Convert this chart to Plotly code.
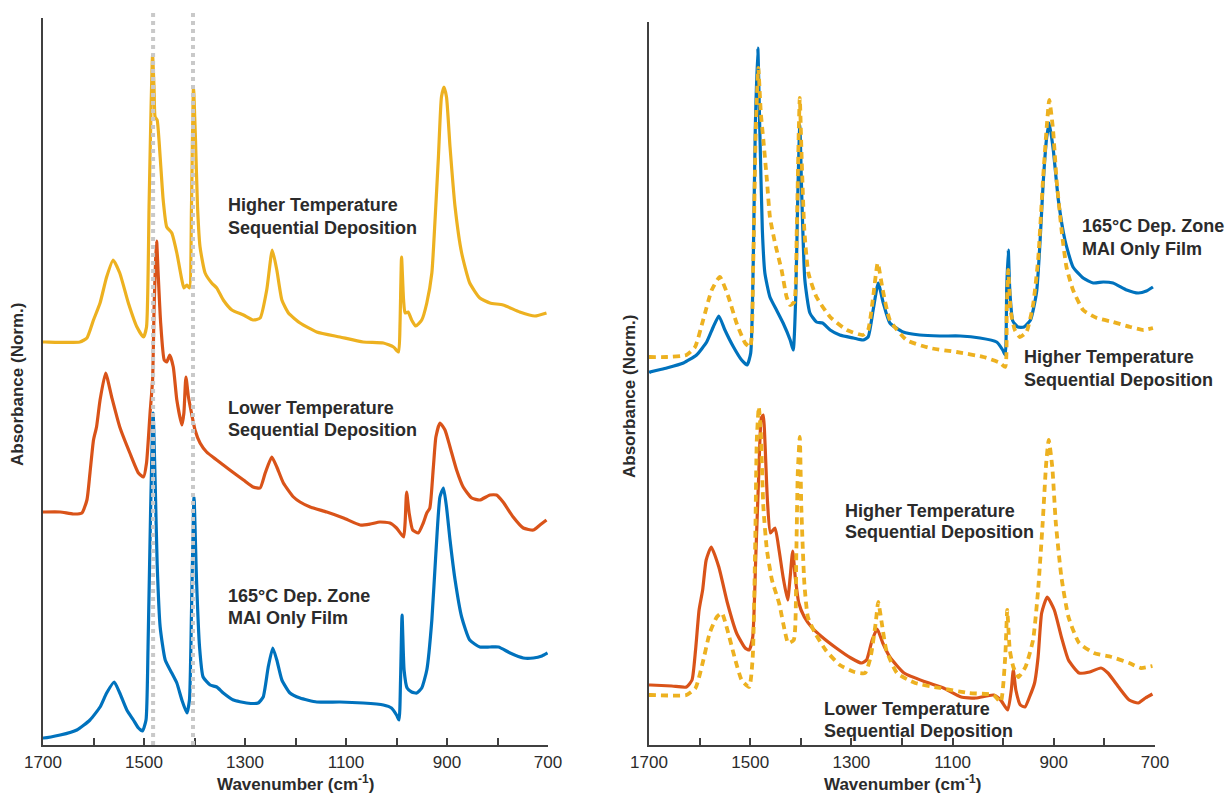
import plotly.graph_objects as go

# ---------------- data (wavenumber in cm-1, normalized absorbance with stacking offset) -------------
# Left panel
left_higher_wn = [1700, 1696, 1627, 1613, 1600, 1587, 1574, 1561, 1548, 1531, 1514, 1501, 1495, 1490, 1486, 1483,
                  1480, 1478, 1474, 1468, 1462, 1455, 1445, 1435, 1425, 1421, 1415, 1410, 1406, 1402, 1398, 1394,
                  1389, 1379, 1366, 1356, 1343, 1326, 1303, 1284, 1270, 1257, 1246, 1237, 1227, 1214, 1191, 1158,
                  1112, 1066, 1026, 1006, 996, 993, 990, 986, 983, 977, 970, 962, 950, 940, 930, 924, 917, 911,
                  906, 901, 894, 884, 871, 855, 835, 815, 789, 756, 726, 703]
left_higher_abs = [4.03, 4.03, 4.03, 4.07, 4.25, 4.42, 4.68, 4.85, 4.72, 4.42, 4.18, 4.08, 4.18, 5.38, 6.38, 6.90,
                   6.55, 6.28, 6.25, 5.88, 5.45, 5.18, 5.12, 4.92, 4.65, 4.57, 4.60, 4.57, 5.38, 6.58, 6.05, 5.38,
                   4.98, 4.72, 4.62, 4.57, 4.45, 4.35, 4.30, 4.25, 4.27, 4.55, 4.95, 4.75, 4.45, 4.32, 4.22, 4.13,
                   4.08, 4.03, 4.02, 3.98, 3.93, 4.22, 4.88, 4.45, 4.32, 4.33, 4.25, 4.19, 4.25, 4.42, 4.72, 5.22,
                   5.88, 6.48, 6.58, 6.48, 5.98, 5.38, 4.92, 4.62, 4.47, 4.42, 4.40, 4.33, 4.29, 4.32]

left_lower_wn = [1700, 1699, 1666, 1640, 1623, 1613, 1607, 1600, 1594, 1587, 1576, 1564, 1548, 1528, 1511, 1501,
                 1495, 1488, 1483, 1480, 1477, 1475, 1472, 1467, 1460, 1455, 1449, 1442, 1435, 1425, 1421, 1417,
                 1412, 1406, 1399, 1389, 1376, 1356, 1330, 1303, 1284, 1270, 1260, 1247, 1237, 1224, 1204, 1191,
                 1171, 1138, 1105, 1072, 1052, 1033, 1013, 1000, 986, 983, 980, 975, 968, 957, 947, 940, 934,
                 927, 922, 914, 904, 894, 881, 868, 851, 835, 815, 802, 789, 769, 749, 729, 716, 703]
left_lower_abs = [2.33, 2.33, 2.33, 2.31, 2.32, 2.45, 2.72, 3.05, 3.18, 3.45, 3.72, 3.48, 3.18, 2.92, 2.72, 2.68,
                  2.82, 3.32, 3.65, 4.38, 4.85, 5.04, 4.72, 4.22, 3.85, 3.83, 3.90, 3.78, 3.45, 3.20, 3.32, 3.68,
                  3.48, 3.32, 3.15, 3.02, 2.93, 2.85, 2.75, 2.65, 2.58, 2.57, 2.72, 2.88, 2.78, 2.62, 2.48, 2.43,
                  2.38, 2.33, 2.27, 2.20, 2.21, 2.23, 2.22, 2.17, 2.08, 2.22, 2.53, 2.32, 2.15, 2.12, 2.22, 2.32,
                  2.37, 2.78, 3.08, 3.22, 3.15, 2.98, 2.75, 2.58, 2.47, 2.45, 2.50, 2.50, 2.43, 2.28, 2.17, 2.15,
                  2.20, 2.25]

left_mai_wn = [1700, 1699, 1666, 1633, 1607, 1587, 1574, 1559, 1548, 1534, 1521, 1511, 1503, 1496, 1492, 1487,
               1482, 1478, 1474, 1468, 1458, 1445, 1435, 1425, 1415, 1410, 1406, 1401, 1396, 1390, 1383, 1369,
               1356, 1343, 1323, 1297, 1274, 1264, 1254, 1245, 1237, 1227, 1211, 1191, 1158, 1112, 1066, 1026,
               1010, 1000, 995, 992, 989, 985, 979, 970, 960, 950, 940, 930, 922, 914, 907, 901, 894, 884, 871,
               855, 835, 815, 798, 775, 749, 729, 712, 701]
left_mai_abs = [0.07, 0.07, 0.10, 0.15, 0.25, 0.38, 0.52, 0.63, 0.52, 0.35, 0.25, 0.17, 0.14, 0.25, 0.98, 2.32,
                3.32, 2.65, 1.82, 1.18, 0.85, 0.72, 0.62, 0.45, 0.32, 0.45, 1.32, 2.48, 1.65, 0.98, 0.68, 0.60,
                0.58, 0.52, 0.45, 0.42, 0.42, 0.48, 0.78, 0.97, 0.85, 0.65, 0.52, 0.47, 0.43, 0.43, 0.42, 0.40,
                0.37, 0.30, 0.25, 0.65, 1.30, 0.75, 0.57, 0.53, 0.52, 0.57, 0.75, 1.25, 1.92, 2.48, 2.57, 2.38,
                2.05, 1.65, 1.28, 1.05, 0.98, 0.98, 0.98, 0.92, 0.87, 0.87, 0.89, 0.92]

# Right panel, top pair
right_mai_wn = [1700, 1698, 1665, 1632, 1606, 1586, 1573, 1562, 1550, 1533, 1517, 1506, 1499, 1494, 1490, 1485,
                1481, 1476, 1471, 1461, 1448, 1435, 1421, 1415, 1410, 1406, 1402, 1398, 1392, 1382, 1369, 1357,
                1342, 1323, 1296, 1277, 1267, 1257, 1247, 1237, 1224, 1198, 1165, 1125, 1085, 1046, 1013, 1001,
                996, 993, 990, 987, 981, 971, 959, 946, 934, 927, 921, 914, 909, 901, 891, 878, 862, 842, 822,
                802, 783, 756, 733, 717, 704]
right_mai_abs = [3.72, 3.73, 3.77, 3.82, 3.90, 4.03, 4.18, 4.29, 4.15, 3.98, 3.85, 3.80, 3.92, 4.82, 6.15, 6.97,
                 6.15, 5.15, 4.72, 4.48, 4.35, 4.22, 4.05, 3.95, 4.48, 5.48, 6.20, 5.48, 4.65, 4.32, 4.23, 4.22,
                 4.15, 4.10, 4.07, 4.05, 4.08, 4.35, 4.62, 4.42, 4.22, 4.13, 4.10, 4.09, 4.09, 4.07, 4.03, 3.95,
                 3.90, 4.58, 4.95, 4.55, 4.24, 4.18, 4.18, 4.25, 4.53, 5.05, 5.62, 6.08, 6.22, 5.95, 5.45, 5.05,
                 4.78, 4.67, 4.62, 4.63, 4.62, 4.55, 4.52, 4.54, 4.58]

right_higher_top_wn = [1700, 1698, 1665, 1626, 1609, 1593, 1576, 1560, 1543, 1527, 1510, 1500, 1494, 1489, 1484,
                       1479, 1474, 1467, 1461, 1451, 1438, 1428, 1421, 1413, 1408, 1404, 1402, 1398, 1393, 1385,
                       1369, 1342, 1309, 1277, 1267, 1257, 1248, 1238, 1224, 1191, 1145, 1092, 1039, 1006, 996,
                       993, 990, 985, 977, 967, 954, 941, 931, 921, 914, 909, 902, 894, 884, 875, 862, 842, 815,
                       783, 749, 723, 704]
right_higher_top_abs = [3.88, 3.88, 3.88, 3.90, 3.98, 4.25, 4.55, 4.68, 4.48, 4.22, 4.02, 3.98, 4.82, 6.15, 6.77,
                        6.32, 6.05, 5.65, 5.28, 5.02, 4.75, 4.48, 4.40, 4.43, 5.15, 6.15, 6.47, 5.82, 5.15, 4.72,
                        4.48, 4.28, 4.15, 4.10, 4.15, 4.48, 4.82, 4.55, 4.25, 4.05, 3.97, 3.93, 3.88, 3.82, 3.78,
                        4.35, 4.75, 4.33, 4.15, 4.08, 4.13, 4.40, 4.85, 5.68, 6.18, 6.45, 6.18, 5.62, 5.12, 4.78,
                        4.55, 4.35, 4.27, 4.23, 4.18, 4.15, 4.17]

# Right panel, bottom pair
right_lower_wn = [1700, 1697, 1655, 1626, 1615, 1608, 1601, 1594, 1587, 1577, 1562, 1545, 1527, 1510, 1502, 1495,
                  1489, 1483, 1478, 1474, 1471, 1466, 1460, 1451, 1443, 1435, 1426, 1421, 1416, 1411, 1404, 1393,
                  1379, 1358, 1330, 1301, 1280, 1270, 1259, 1249, 1238, 1224, 1196, 1153, 1118, 1083, 1054, 1019,
                  1005, 991, 984, 980, 975, 966, 957, 948, 938, 931, 924, 913, 899, 885, 871, 850, 829, 807, 793,
                  772, 751, 733, 719, 705]
right_lower_abs = [0.60, 0.60, 0.59, 0.58, 0.65, 0.95, 1.35, 1.55, 1.85, 1.98, 1.78, 1.42, 1.12, 0.97, 0.95, 1.08,
                   1.88, 2.72, 3.27, 3.30, 3.05, 2.45, 2.12, 2.17, 1.95, 1.68, 1.45, 1.68, 1.94, 1.68, 1.42, 1.28,
                   1.18, 1.08, 0.97, 0.87, 0.82, 0.85, 1.05, 1.16, 1.02, 0.88, 0.72, 0.63, 0.57, 0.48, 0.47, 0.50,
                   0.45, 0.35, 0.55, 0.75, 0.55, 0.40, 0.38, 0.48, 0.62, 0.88, 1.32, 1.48, 1.35, 1.08, 0.85, 0.72,
                   0.73, 0.77, 0.72, 0.58, 0.45, 0.42, 0.47, 0.51]

right_higher_bot_wn = [1700, 1697, 1626, 1608, 1594, 1580, 1566, 1556, 1545, 1531, 1517, 1502, 1495, 1490, 1487,
                       1483, 1479, 1474, 1467, 1457, 1443, 1432, 1425, 1414, 1409, 1406, 1402, 1399, 1393, 1386,
                       1372, 1351, 1323, 1294, 1273, 1262, 1252, 1247, 1240, 1231, 1210, 1174, 1125, 1068, 1019,
                       1005, 996, 992, 987, 980, 970, 956, 941, 931, 922, 915, 910, 903, 896, 885, 871, 850, 821,
                       786, 751, 728, 705]
right_higher_bot_abs = [0.50, 0.50, 0.50, 0.57, 0.82, 1.12, 1.28, 1.32, 1.15, 0.88, 0.65, 0.58, 0.88, 2.05, 3.05,
                        3.38, 3.12, 2.38, 1.95, 1.65, 1.42, 1.15, 1.02, 1.05, 1.88, 2.72, 3.08, 2.38, 1.62, 1.28,
                        1.12, 0.95, 0.80, 0.73, 0.72, 0.88, 1.22, 1.43, 1.22, 0.95, 0.72, 0.62, 0.57, 0.52, 0.50,
                        0.43, 0.88, 1.35, 0.95, 0.78, 0.68, 0.78, 1.05, 1.55, 2.22, 2.82, 3.05, 2.78, 2.22, 1.68,
                        1.28, 1.02, 0.92, 0.88, 0.82, 0.77, 0.79]

ref_lines_wn = [1482, 1403]

# ---------------- styling -------------
BLUE = "#0072BD"
ORANGE = "#D95319"
YELLOW = "#EDB120"
AXC = "#404040"
TXT = "#2b2b2b"
FONT = "Liberation Sans, Arial, sans-serif"
LW = 3.2

fig = go.Figure()

def add(x, y, color, xa, ya, dash=None, width=LW):
    fig.add_trace(go.Scatter(x=x, y=y, mode="lines", xaxis=xa, yaxis=ya,
                             line=dict(color=color, width=width, shape="spline", smoothing=0.5,
                                       dash=dash), hoverinfo="skip", showlegend=False))

add(left_higher_wn, left_higher_abs, YELLOW, "x", "y")
add(left_lower_wn, left_lower_abs, ORANGE, "x", "y")
add(left_mai_wn, left_mai_abs, BLUE, "x", "y")

add(right_mai_wn, right_mai_abs, BLUE, "x2", "y2")
add(right_higher_top_wn, right_higher_top_abs, YELLOW, "x2", "y2", dash="7px,5px", width=3.8)
add(right_lower_wn, right_lower_abs, ORANGE, "x2", "y2")
add(right_higher_bot_wn, right_higher_bot_abs, YELLOW, "x2", "y2", dash="7px,5px", width=3.8)

W, H = 1231, 797
y_bottom = (H - 745) / H

for wn in ref_lines_wn:
    fig.add_shape(type="line", xref="x", yref="paper", x0=wn, x1=wn, y0=y_bottom, y1=(H - 9) / H,
                  line=dict(color="#c9c9c9", width=4, dash="dot"), layer="above")

xaxis_common = dict(range=[1700, 700], tickmode="linear", tick0=700, dtick=200,
                    ticks="inside", ticklen=7, tickwidth=1.5, tickcolor=AXC,
                    minor=dict(tick0=700, dtick=100, ticks="inside", ticklen=7, tickwidth=1.5, tickcolor=AXC,
                               showgrid=False),
                    showline=True, linecolor=AXC, linewidth=1.5, showgrid=False, zeroline=False,
                    tickfont=dict(family=FONT, size=17, color=TXT), ticklabelstandoff=1,
                    automargin=False)
yaxis_common = dict(showline=True, linecolor=AXC, linewidth=1.5, showgrid=False, zeroline=False,
                    showticklabels=False, ticks="", automargin=False)

fig.update_layout(
    width=W, height=H,
    margin=dict(l=0, r=0, t=0, b=0),
    paper_bgcolor="white", plot_bgcolor="white",
    xaxis=dict(domain=[43 / W, 548 / W], anchor="y", **xaxis_common),
    xaxis2=dict(domain=[649 / W, 1155 / W], anchor="y2", **xaxis_common),
    yaxis=dict(domain=[y_bottom, (H - 18) / H], range=[0, 7.27], anchor="x", **yaxis_common),
    yaxis2=dict(domain=[y_bottom, (H - 22) / H], range=[0, 7.23], anchor="x2", **yaxis_common),
)

title_font = dict(family=FONT, size=17, color=TXT, weight="bold")
# axis titles
for xc in (295.5, 902):
    fig.add_annotation(xref="paper", yref="paper", x=xc / W, y=(H - 783) / H,
                       text="Wavenumber (cm<sup>-1</sup>)", showarrow=False,
                       xanchor="center", yanchor="middle", font=title_font)
for xc, yc in ((18, 385), (630, 397)):
    fig.add_annotation(xref="paper", yref="paper", x=xc / W, y=(H - yc) / H,
                       text="Absorbance (Norm.)", showarrow=False, textangle=-90,
                       xanchor="center", yanchor="middle", font=title_font)

labels = [
    ("x", "y", 1334, 5.40, "Higher Temperature"),
    ("x", "y", 1334, 5.17, "Sequential Deposition"),
    ("x", "y", 1334, 3.37, "Lower Temperature"),
    ("x", "y", 1334, 3.15, "Sequential Deposition"),
    ("x", "y", 1334, 1.49, "165°C Dep. Zone"),
    ("x", "y", 1334, 1.27, "MAI Only Film"),
    ("x2", "y2", 844, 5.19, "165°C Dep. Zone"),
    ("x2", "y2", 844, 4.96, "MAI Only Film"),
    ("x2", "y2", 959, 3.88, "Higher Temperature"),
    ("x2", "y2", 959, 3.65, "Sequential Deposition"),
    ("x2", "y2", 1313, 2.34, "Higher Temperature"),
    ("x2", "y2", 1313, 2.13, "Sequential Deposition"),
    ("x2", "y2", 1354, 0.36, "Lower Temperature"),
    ("x2", "y2", 1354, 0.14, "Sequential Deposition"),
]
for xr, yr, x, y, t in labels:
    fig.add_annotation(xref=xr, yref=yr, x=x, y=y, text=t, showarrow=False, xanchor="left",
                       yanchor="middle", xshift=-2,
                       font=dict(family=FONT, size=18, color=TXT, weight="bold"))

fig.write_html("out.html")
